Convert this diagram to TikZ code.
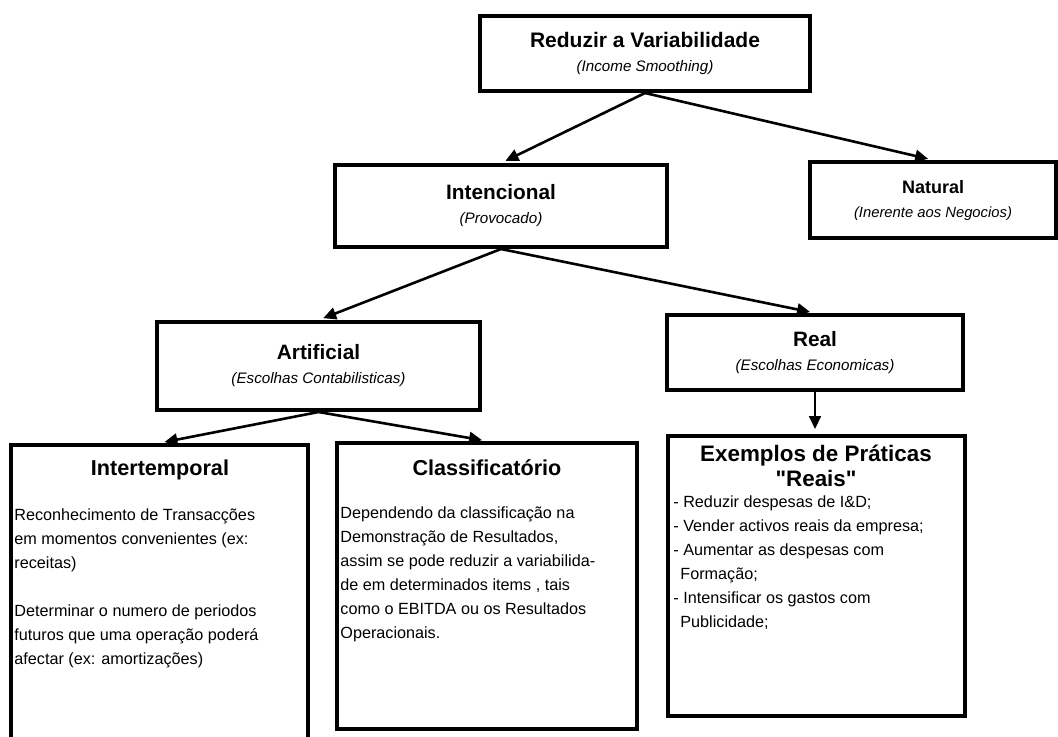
\documentclass[tikz,border=0pt]{standalone}
\usepackage{fontspec}
\setmainfont{Liberation Sans}
\usetikzlibrary{arrows.meta}

\begin{document}
\begin{tikzpicture}[x=0.5pt, y=-0.5pt,
  every node/.style = {align=center, inner sep=0pt},
  box/.style = {draw, line width=2pt},
  body/.style = {anchor=north west, align=left,
    font=\fontsize{8.1}{12}\selectfont},
  head/.style = {font=\fontsize{10.8}{13}\selectfont\bfseries},
  arr/.style = {-{Triangle[length=6.5pt,width=6pt]},
    line width=1.3pt, shorten >=2.5pt}]

  \useasboundingbox (0,0) rectangle (1058,736);

  % upper levels
  \node[box, minimum width=165pt, minimum height=37.5pt] (reduzir) at (645,53.5)
    {{\fontsize{10.5}{12}\selectfont\bfseries Reduzir a Variabilidade}\\
     {\fontsize{7.6}{9}\selectfont\itshape (Income Smoothing)}};
  \node[box, minimum width=166pt, minimum height=41pt] (intencional) at (501,206)
    {{\fontsize{10.4}{12}\selectfont\bfseries Intencional}\\
     {\fontsize{7.6}{9}\selectfont\itshape (Provocado)}};
  \node[box, minimum width=123pt, minimum height=38pt] (natural) at (933,200)
    {{\fontsize{9}{12}\selectfont\bfseries Natural}\\
     {\fontsize{7.4}{9}\selectfont\itshape (Inerente aos Negocios)}};
  \node[box, minimum width=161.5pt, minimum height=44pt] (artificial) at (318.5,366)
    {{\fontsize{10.4}{12}\selectfont\bfseries Artificial}\\
     {\fontsize{7.6}{9}\selectfont\itshape (Escolhas Contabilisticas)}};
  \node[box, minimum width=148pt, minimum height=37.5pt] (real) at (815,352.5)
    {{\fontsize{10.4}{12}\selectfont\bfseries Real}\\
     {\fontsize{7.6}{9}\selectfont\itshape (Escolhas Economicas)}};

  % bottom boxes
  \node[box, minimum width=148.5pt, minimum height=150pt] (intertemp) at (159.5,595) {};
  \node[box, minimum width=150pt, minimum height=143pt] (classif) at (487,586) {};
  \node[box, minimum width=148.5pt, minimum height=140pt] (exemplos) at (816.5,576) {};

  \node[head] (intertemp-t) at (160,470) {Intertemporal};
  \node[body] (intertemp-b) at (14,508)
    {Reconhecimento de Transacções\\
     em momentos convenientes (ex:\\
     receitas)\\[12pt]
     Determinar o numero de periodos\\
     futuros que uma operação poderá\\
     afectar (ex: amortizações)};

  \node[head] (classif-t) at (487,468) {Classificatório};
  \node[body] (classif-b) at (340,506)
    {Dependendo da classificação na\\
     Demonstração de Resultados,\\
     assim se pode reduzir a variabilida-\\
     de em determinados items , tais\\
     como o EBITDA ou os Resultados\\
     Operacionais.};

  \node[head, font=\fontsize{11.2}{12.5}\selectfont\bfseries] (exemplos-t) at (816,466)
    {Exemplos de Práticas\\\textquotedbl Reais\textquotedbl};
  \node[body] (exemplos-b) at (673,495)
    {- Reduzir despesas de I\&D;\\
     - Vender activos reais da empresa;\\
     - Aumentar as despesas com\\
     \hspace*{3.5pt}Formação;\\
     - Intensificar os gastos com\\
     \hspace*{3.5pt}Publicidade;};

  % connectors
  \draw[arr] (reduzir.south) -- (intencional.north);
  \draw[arr] (reduzir.south) -- (natural.north);
  \draw[arr] (intencional.south) -- (artificial.north);
  \draw[arr] (intencional.south) -- (real.north);
  \draw[arr] (artificial.south) -- (intertemp.north);
  \draw[arr] (artificial.south) -- (classif.north);
  \draw[arr, line width=0.9pt] (real.south) -- (real.south |- exemplos.north);
\end{tikzpicture}
\end{document}
